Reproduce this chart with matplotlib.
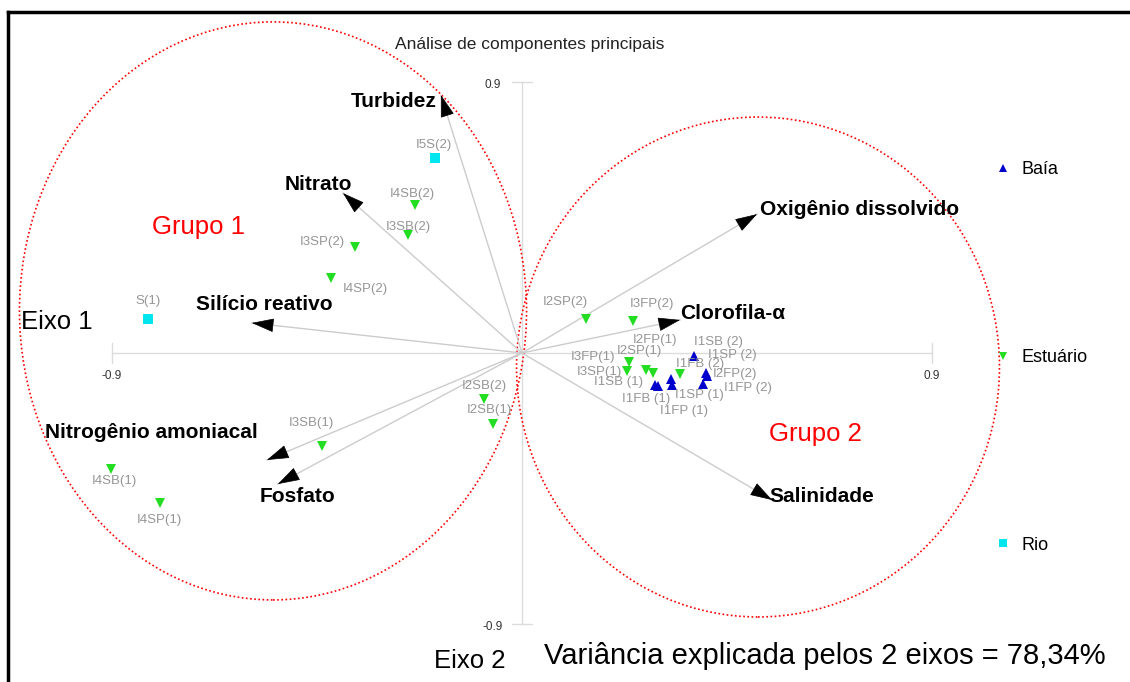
import matplotlib
matplotlib.use("Agg")
import matplotlib.pyplot as plt
from matplotlib.patches import Ellipse
from matplotlib.lines import Line2D
import numpy as np

plt.rcParams["font.family"] = ["Liberation Sans", "DejaVu Sans"]

# --- data ---------------------------------------------------------------
# variable loadings (arrow tips), eixo 1 / eixo 2
var_names = ["Turbidez", "Nitrato", "Silício reativo", "Nitrogênio amoniacal",
             "Fosfato", "Oxigênio dissolvido", "Clorofila-α", "Salinidade"]
var_x = [-0.178, -0.393, -0.593, -0.560, -0.536, 0.516, 0.347, 0.549]
var_y = [0.858, 0.532, 0.100, -0.356, -0.436, 0.462, 0.110, -0.489]

# sample scores
baia_names = ["I1SB (2)", "I1SP (2)", "I2FP(2)", "I1FP (2)",
              "I1SB (1)", "I1FB (1)", "I1SP (1)", "I1FP (1)"]
baia_x = [0.378, 0.404, 0.406, 0.397, 0.292, 0.299, 0.327, 0.330]
baia_y = [-0.010, -0.066, -0.076, -0.103, -0.106, -0.110, -0.087, -0.106]

est_names = ["I4SB(2)", "I3SB(2)", "I3SP(2)", "I4SP(2)", "I2SP(2)", "I3FP(2)",
             "I3FP(1)", "I3SP(1)", "I2SP(1)", "I2FP(1)", "I1FB (2)",
             "I2SB(2)", "I2SB(1)", "I3SB(1)", "I4SB(1)", "I4SP(1)"]
est_x = [-0.235, -0.250, -0.367, -0.419, 0.140, 0.244,
         0.235, 0.230, 0.272, 0.288, 0.347,
         -0.083, -0.064, -0.439, -0.902, -0.795]
est_y = [0.492, 0.393, 0.353, 0.249, 0.113, 0.106,
         -0.030, -0.060, -0.057, -0.067, -0.070,
         -0.153, -0.236, -0.309, -0.386, -0.499]

rio_names = ["I5S(2)", "S(1)"]
rio_x = [-0.191, -0.821]
rio_y = [0.649, 0.113]

# --- layout (label offsets in pixels) ---------------------------------------
var_lab = [(-0.281, 0.838), (-0.448, 0.559), (-0.566, 0.160), (-0.814, -0.266),
           (-0.492, -0.479), (0.742, 0.476), (0.463, 0.133), (0.658, -0.476)]
baia_off = [(24, 14), (26, 18), (28, 2), (45, -4),
            (-37, 3), (-12, -13), (28, -16), (12, -26)]
est_off = [(-3, 11), (0, 8), (-32, 5), (34, -11), (-20, 17), (19, 17),
           (-36, 5), (-27, -1), (-7, 19), (2, 33), (20, 10),
           (0, 13), (-3, 14), (-11, 23), (3, -12), (0, -17)]
rio_off = [(-1, 13), (0, 18)]

W, H = 1130, 682
fig = plt.figure(figsize=(W / 100, H / 100), dpi=100)
ax = fig.add_axes([0, 0, 1, 1])
sx, sy = 455.6, 300.6
ox, oy = 522, 353
ax.set_xlim(-ox / sx, (W - ox) / sx)
ax.set_ylim(-(H - oy) / sy, oy / sy)
ax.axis("off")

axis_col = "#dcdcdc"
# eixos
ax.plot([-0.9, 0.9], [0, 0], color=axis_col, lw=1, zorder=1)
ax.plot([0, 0], [-0.9, 0.9], color=axis_col, lw=1, zorder=1)
for v in (-0.9, 0.9):
    ax.plot([v, v], [-10 / sy, 10 / sy], color=axis_col, lw=1, zorder=1)
    ax.plot([-10 / sx, 10 / sx], [v, v], color=axis_col, lw=1, zorder=1)
    ax.text(v, -23 / sy, f"{v:.1f}", ha="center", va="center",
            fontsize=8.5, color="#333333")
    ax.text(-29 / sx, v - 3 / sy, f"{v:.1f}", ha="center", va="center",
            fontsize=8.5, color="#333333")

# vetores das variáveis
for name, x, y, (lx, ly) in zip(var_names, var_x, var_y, var_lab):
    ax.plot([0, x], [0, y], color="#cccccc", lw=1, zorder=2)
    d = np.hypot(x * sx, y * sy)
    bx, by = x * (1 - 16 / d), y * (1 - 16 / d)
    ax.annotate("", xy=(x, y), xytext=(bx, by),
                arrowprops=dict(arrowstyle="-|>,head_length=0.8,head_width=0.25",
                                color="black", lw=0.5, mutation_scale=18,
                                shrinkA=0, shrinkB=0), zorder=3)
    ax.text(lx, ly, name, ha="center", va="center", fontsize=15,
            fontweight="bold", color="black")

lab_col = "#959595"


def draw_group(names, xs, ys, offs, marker, color, label):
    ax.plot(xs, ys, linestyle="none", marker=marker, markersize=6.5,
            color=color, markeredgewidth=0, zorder=4, label=label)
    for n, x, y, (dx, dy) in zip(names, xs, ys, offs):
        ax.text(x + dx / sx, y + dy / sy, n, ha="center", va="center",
                fontsize=9.5, color=lab_col, zorder=5)


draw_group(baia_names, baia_x, baia_y, baia_off, "^", "#0000cc", "Baía")
draw_group(est_names, est_x, est_y, est_off, "v", "#22dd22", "Estuário")
draw_group(rio_names, rio_x, rio_y, rio_off, "s", "#00e5ee", "Rio")

# grupos
ax.add_patch(Ellipse((-0.5465, 0.140), 1.113, 1.923, fill=False,
                     edgecolor="red", linestyle=(0, (1, 1.5)), lw=1.2))
ax.add_patch(Ellipse((0.518, -0.0466), 1.060, 1.663, fill=False,
                     edgecolor="red", linestyle=(0, (1, 1.5)), lw=1.2))
ax.text(-0.711, 0.419, "Grupo 1", color="red", fontsize=18.5, ha="center", va="center")
ax.text(0.643, -0.269, "Grupo 2", color="red", fontsize=18.5, ha="center", va="center")

leg = ax.legend(loc="upper left", bbox_to_anchor=(980 / W, 1 - 145 / H),
                frameon=False, fontsize=13, labelspacing=9.45,
                handlelength=0.8, handletextpad=0.6, markerscale=0.9)

fig.text(530 / W, 1 - 45 / H, "Análise de componentes principais",
         ha="center", va="center", fontsize=12.5, color="#222222")
fig.text(57 / W, 1 - 322 / H, "Eixo 1", ha="center", va="center", fontsize=18.5)
fig.text(470 / W, 1 - 661 / H, "Eixo 2", ha="center", va="center", fontsize=18.5)
fig.text(825 / W, 1 - 656 / H, "Variância explicada pelos 2 eixos = 78,34%",
         ha="center", va="center", fontsize=21)

# moldura
fig.add_artist(Line2D([8 / W, 1], [1 - 12 / H, 1 - 12 / H], color="black",
                      lw=2.5, transform=fig.transFigure))
fig.add_artist(Line2D([8 / W, 8 / W], [0, 1 - 12 / H], color="black",
                      lw=2.5, transform=fig.transFigure))

fig.savefig("out.png", dpi=100)
